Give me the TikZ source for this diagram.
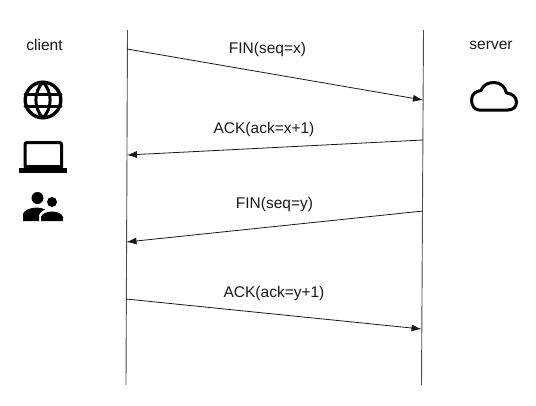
\documentclass[tikz,border=0pt]{standalone}
\usepackage{fontspec}
\setmainfont{Liberation Sans}
\usetikzlibrary{arrows.meta}
\tikzset{
  life/.style={draw=black!70,line width=0.9pt},
  msg/.style={draw=black!90,line width=0.8pt,-{Latex[length=10pt,width=7pt]}},
  lab/.style={font=\fontsize{15.5}{18}\selectfont,text=black!90,inner sep=0pt},
  iconline/.style={draw=black,line width=3pt,line join=round,line cap=round},
}
\begin{document}
\begin{tikzpicture}[x=1pt,y=-1pt]
\useasboundingbox (0,0) rectangle (536,405);
% lifelines
\coordinate (ct) at (127.5,30); \coordinate (cb) at (126,385);
\coordinate (st) at (423.5,30); \coordinate (sb) at (421.5,385);
\draw[life] (ct) -- (cb);
\draw[life] (st) -- (sb);
% messages
\coordinate (a1) at (127,49);  \coordinate (a2) at (423,100);
\coordinate (b1) at (423,140); \coordinate (b2) at (127,155);
\coordinate (c1) at (423,211); \coordinate (c2) at (126.5,242);
\coordinate (d1) at (126,299); \coordinate (d2) at (421.5,329);
\draw[msg] (a1) -- (a2);
\draw[msg] (b1) -- (b2);
\draw[msg] (c1) -- (c2);
\draw[msg] (d1) -- (d2);
% labels
\node[lab] (lclient) at (44.5,45) {client};
\node[lab] (lserver) at (491,45.5) {server};
\node[lab] (l1) at (267.5,49) {FIN(seq=x)};
\node[lab] (l2) at (264,129) {ACK(ack=x+1)};
\node[lab] (l3) at (274.5,204.5) {FIN(seq=y)};
\node[lab] (l4) at (274,293.5) {ACK(ack=y+1)};
% globe
\begin{scope}[shift={(43,100)}]
\draw[iconline,line width=3.4pt] (0,0) circle (17.8);
\draw[iconline,line width=3pt] (-18,-6) -- (18,-6) (-18,6) -- (18,6);
\draw[iconline,line width=3pt] (0,-18) .. controls (-9.5,-8) and (-9.5,8) .. (0,18);
\draw[iconline,line width=3pt] (0,-18) .. controls (9.5,-8) and (9.5,8) .. (0,18);
\end{scope}
% laptop
\draw[iconline] (25,167) -- (25,144.5) .. controls (25,143) and (26,142.5) .. (27.5,142.5) -- (59,142.5) .. controls (60.5,142.5) and (61.5,143) .. (61.5,144.5) -- (61.5,167);
\fill[black] (19,168) rectangle (67,173);
\fill[black] (23.5,165) rectangle (63,168.5);
% people
\fill[black] (37.5,198) circle (6);
\fill[black] (52,202) circle (5);
\fill[black] (23,221) -- (23,214) .. controls (24,210) and (31,207.5) .. (37,207.5) .. controls (40,207.5) and (43,208.5) .. (45,209.5) .. controls (41,211) and (39,214) .. (39,216) -- (39,221) -- cycle;
\fill[black] (41,221) -- (41,217) .. controls (42,213.5) and (47,211.5) .. (52,211.5) .. controls (57,211.5) and (62,213.5) .. (63,217) -- (63,221) -- cycle;
% cloud
\draw[iconline] (479,110) .. controls (475,110) and (471.5,106) .. (471.5,100) .. controls (471.5,94) and (476,91) .. (481,90.5) .. controls (483,85) and (488,82.5) .. (494,82.5) .. controls (501,82.5) and (505,87) .. (506.5,93) .. controls (512,93.5) and (516.5,97) .. (516.5,102) .. controls (516.5,107) and (513,110) .. (508,110) -- cycle;
\end{tikzpicture}
\end{document}
